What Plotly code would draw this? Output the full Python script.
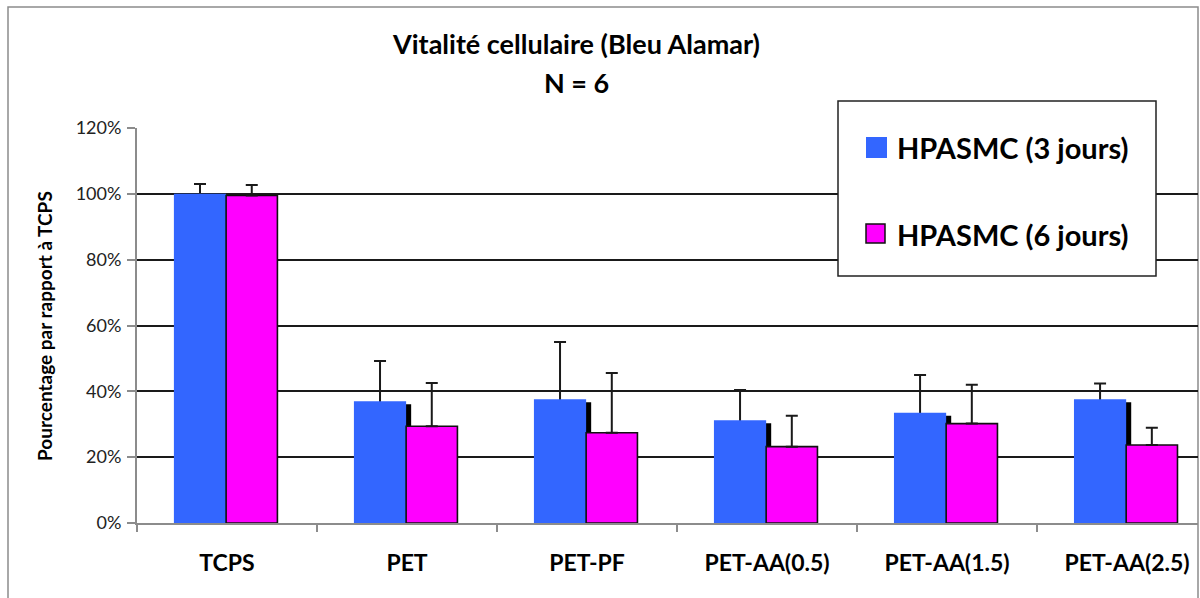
import plotly.graph_objects as go

# Data: cell vitality relative to TCPS (%), mean and positive error
categories = ["TCPS", "PET", "PET-PF", "PET-AA(0.5)", "PET-AA(1.5)", "PET-AA(2.5)"]
series_names = ["HPASMC (3 jours)", "HPASMC (6 jours)"]
day3_values = [100.0, 37.0, 37.6, 31.2, 33.5, 37.6]
day3_errors = [3.0, 12.2, 17.4, 9.2, 11.5, 4.8]
day6_values = [99.5, 29.4, 27.4, 23.2, 30.2, 23.7]
day6_errors = [3.2, 13.1, 18.2, 9.4, 11.8, 5.2]
y_tick_values = [0, 20, 40, 60, 80, 100, 120]
y_tick_labels = ["0%", "20%", "40%", "60%", "80%", "100%", "120%"]

BLUE = "#3366FF"
MAGENTA = "#FF00FF"
FONT = "Lato"

W, H = 1200, 598
M_L, M_R, M_T, M_B = 137, 2, 128, 75

ERR_STYLE = dict(color="#1a1a1a", thickness=2, width=6)

fig = go.Figure()

# drop shadow behind the day-3 bars
fig.add_trace(go.Bar(
    x=categories, y=[v - 0.9 for v in day3_values],
    offset=-0.267, width=0.29,
    marker=dict(color="black", line=dict(width=0)),
    hoverinfo="skip", showlegend=False,
))

# day-3 error bars sit under the blue bars so only the upper whisker shows
fig.add_trace(go.Bar(
    x=categories, y=day3_values,
    offset=-0.295, width=0.29,
    marker=dict(color="rgba(0,0,0,0)", line=dict(width=0)),
    error_y=dict(type="data", symmetric=False, array=day3_errors,
                 arrayminus=[1.0] * len(day3_errors), **ERR_STYLE),
    hoverinfo="skip", showlegend=False,
))

fig.add_trace(go.Bar(
    name=series_names[0], x=categories, y=day3_values,
    offset=-0.295, width=0.29,
    marker=dict(color=BLUE, line=dict(width=0)),
    showlegend=False,
))

fig.add_trace(go.Bar(
    name=series_names[1], x=categories, y=day6_values,
    offset=-0.005, width=0.285,
    marker=dict(color=MAGENTA, line=dict(width=1.6, color="#111111")),
    error_y=dict(type="data", symmetric=False, array=day6_errors,
                 arrayminus=[0] * len(day6_errors), **ERR_STYLE),
    showlegend=False,
))


# px -> paper helpers for the decorations
def px(x):
    return (x - M_L) / (W - M_L - M_R)


def py(y):
    return (H - M_B - y) / (H - M_T - M_B)


shapes = [
    # outer chart frame
    dict(type="rect", xref="paper", yref="paper",
         x0=px(8), x1=px(1198), y0=py(640), y1=py(7),
         line=dict(color="#8c8c8c", width=1.5), fillcolor="rgba(0,0,0,0)",
         layer="below"),
    # legend box
    dict(type="rect", xref="paper", yref="paper",
         x0=px(838), x1=px(1156), y0=py(276), y1=py(101),
         line=dict(color="#222222", width=1.5), fillcolor="white",
         layer="above"),
    # legend swatches
    dict(type="rect", xref="paper", yref="paper",
         x0=px(866), x1=px(887), y0=py(158), y1=py(137),
         line=dict(width=0), fillcolor=BLUE, layer="above"),
    dict(type="rect", xref="paper", yref="paper",
         x0=px(866), x1=px(885), y0=py(243), y1=py(224),
         line=dict(color="#111111", width=1.5), fillcolor=MAGENTA, layer="above"),
]

annotations = [
    dict(text="<b>Vitalité cellulaire (Bleu Alamar)</b>", xref="paper", yref="paper",
         x=px(576), y=py(44), xanchor="center", yanchor="middle", showarrow=False,
         font=dict(family=FONT, size=27, color="black")),
    dict(text="<b>N = 6</b>", xref="paper", yref="paper",
         x=px(576), y=py(82), xanchor="center", yanchor="middle", showarrow=False,
         font=dict(family=FONT, size=27, color="black")),
    dict(text="<b>" + series_names[0] + "</b>", xref="paper", yref="paper",
         x=px(895), y=py(147), xanchor="left", yanchor="middle", showarrow=False,
         font=dict(family=FONT, size=29, color="black")),
    dict(text="<b>" + series_names[1] + "</b>", xref="paper", yref="paper",
         x=px(895), y=py(234), xanchor="left", yanchor="middle", showarrow=False,
         font=dict(family=FONT, size=29, color="black")),
    dict(text="<b>Pourcentage par rapport à TCPS</b>", xref="paper", yref="paper",
         x=px(44), y=py(326), xanchor="center", yanchor="middle", showarrow=False,
         textangle=-90, font=dict(family=FONT, size=19, color="black")),
]

fig.update_layout(
    width=W, height=H,
    margin=dict(l=M_L, r=M_R, t=M_T, b=M_B, pad=0),
    paper_bgcolor="white", plot_bgcolor="white",
    barmode="overlay",
    showlegend=False,
    shapes=shapes,
    annotations=annotations,
    font=dict(family=FONT, color="black"),
    xaxis=dict(
        type="category", range=[-0.5, 5.394],
        tickson="boundaries", ticks="outside", ticklen=7, tickcolor="#8c8c8c",
        tickwidth=1.5,
        showline=True, linecolor="#8c8c8c", linewidth=2,
        showgrid=False, zeroline=False,
        tickfont=dict(family=FONT, size=23, color="black"),
        tickvals=categories,
        ticktext=["<b>" + c + "</b>" for c in categories],
        ticklabelstandoff=18,
    ),
    yaxis=dict(
        range=[0, 120],
        tickvals=y_tick_values, ticktext=y_tick_labels,
        ticks="outside", ticklen=8, tickcolor="#8c8c8c", tickwidth=1.5,
        showline=True, linecolor="#8c8c8c", linewidth=2,
        showgrid=True, gridcolor="#1a1a1a", gridwidth=1.5,
        zeroline=False,
        tickfont=dict(family=FONT, size=18, color="#222222"),
        ticklabelstandoff=2,
    ),
)

fig.write_html("out.html")
